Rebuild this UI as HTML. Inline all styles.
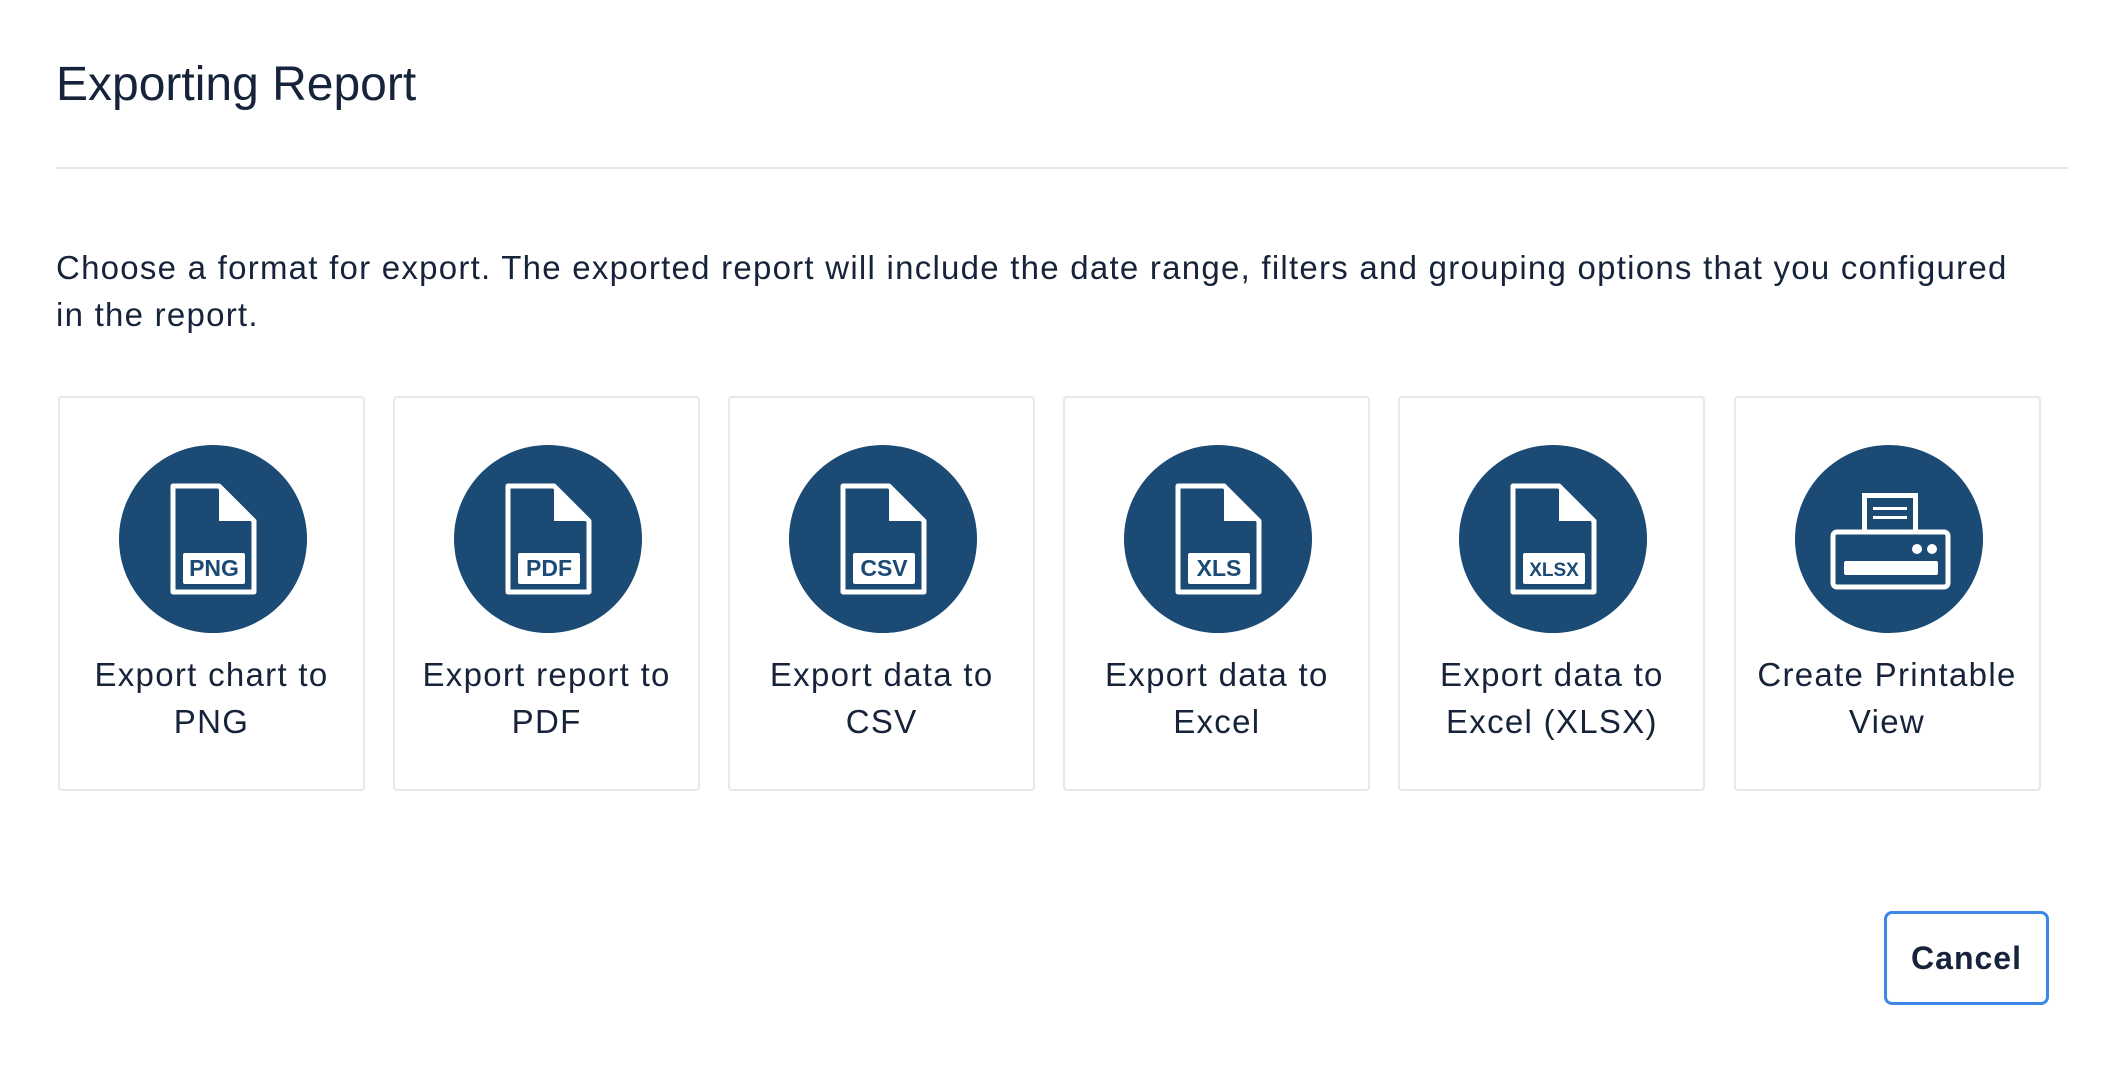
<!DOCTYPE html>
<html><head><meta charset="utf-8"><style>
html,body{margin:0;padding:0;width:2119px;height:1078px;background:#fff;overflow:hidden;font-family:"Liberation Sans",sans-serif;color:#17233a;}
.abs{position:absolute;}
.card{position:absolute;top:396px;width:307px;height:395px;border:2px solid #e4e8ef;border-radius:4px;box-sizing:border-box;}
.card svg{position:absolute;left:58px;top:46px;}
.lbl{position:absolute;left:-20px;right:-20px;top:253px;text-align:center;font-size:33px;line-height:47px;letter-spacing:1.3px;white-space:nowrap;}
</style></head><body>
<div class="abs" style="left:56px;top:57px;font-size:48px;line-height:56px;">Exporting Report</div>
<div class="abs" style="left:56px;top:167px;width:2012px;height:2px;background:#e2e6ec;"></div>
<div class="abs" style="left:56px;top:244px;font-size:33px;line-height:47px;letter-spacing:1.25px;white-space:nowrap;">Choose a format for export. The exported report will include the date range, filters and grouping options that you configured<br>in the report.</div>

<div id="cards"></div>

<div class="abs" style="left:1884px;top:911px;width:165px;height:94px;box-sizing:border-box;border:3px solid #3d87e6;border-radius:8px;text-align:center;line-height:88px;font-size:32px;font-weight:bold;letter-spacing:1px;">Cancel</div>

<script>
const labels=["Export chart to<br>PNG","Export report to<br>PDF","Export data to<br>CSV","Export data to<br>Excel","Export data to<br>Excel (XLSX)","Create Printable<br>View"];
const tags=["PNG","PDF","CSV","XLS","XLSX",null];
const names=["export-png-card","export-pdf-card","export-csv-card","export-excel-card","export-xlsx-card","printable-view-card"];
const cont=document.getElementById('cards');
function fileIcon(t){
  const fs=t.length>3?19:23;
  return `<svg width="190" height="190" viewBox="-95 -95 190 190"><circle r="94" fill="#1b4a74"/>
  <path d="M-40 -53 H6 L41 -18 V53 H-40 Z" fill="none" stroke="#fff" stroke-width="5" stroke-linejoin="round"/>
  <path d="M6 -53 V-18 H41 Z" fill="#fff"/>
  <rect x="-30" y="14" width="62" height="31" rx="2" fill="#fff"/>
  <text x="1" y="37" text-anchor="middle" font-family="Liberation Sans,sans-serif" font-weight="bold" font-size="${fs}" fill="#1b4a74">${t}</text></svg>`;
}
function printerIcon(){
  return `<svg width="190" height="190" viewBox="-95 -95 190 190"><circle r="94" fill="#1b4a74"/>
  <rect x="-27" y="-46" width="56" height="40" fill="#fff"/><rect x="-22" y="-41" width="46" height="35" fill="#1b4a74"/>
  <rect x="-16" y="-32" width="34" height="3" fill="#fff"/><rect x="-16" y="-23" width="34" height="3" fill="#fff"/>
  <rect x="-56" y="-7" width="115" height="55" rx="4" fill="none" stroke="#fff" stroke-width="5"/>
  <rect x="-45" y="22" width="94" height="14" rx="2" fill="#fff"/>
  <circle cx="28" cy="10" r="5" fill="#fff"/><circle cx="43" cy="10" r="5" fill="#fff"/></svg>`;
}
labels.forEach((l,i)=>{
  const c=document.createElement('div');
  c.className='card';
  
  
  c.style.left=(58+i*335.1)+'px';
  c.innerHTML=(tags[i]?fileIcon(tags[i]):printerIcon())+'<div class="lbl">'+l+'</div>';
  cont.appendChild(c);
});
</script>
</body></html>
